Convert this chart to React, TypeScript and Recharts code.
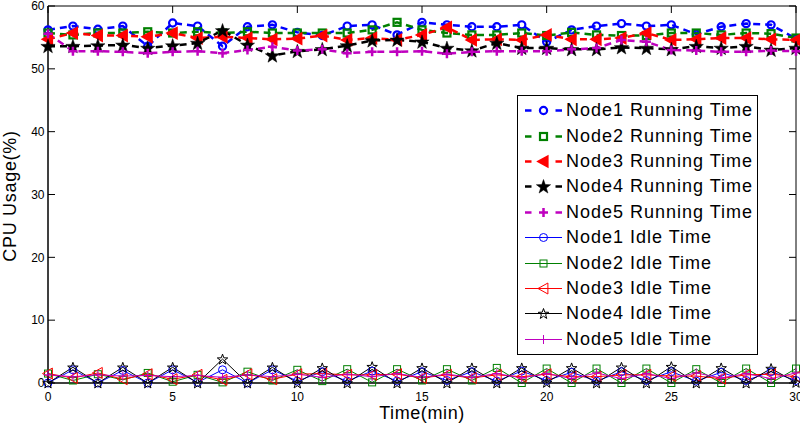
import React from "react";
import {
  LineChart,
  Line,
  XAxis,
  YAxis,
  Legend,
  ReferenceArea,
} from "recharts";

// minutes 0..30
const times = [
  0, 1, 2, 3, 4, 5, 6, 7, 8, 9, 10, 11, 12, 13, 14, 15, 16, 17, 18, 19, 20,
  21, 22, 23, 24, 25, 26, 27, 28, 29, 30,
];
const xTicks = [0, 5, 10, 15, 20, 25, 30];
const yTicks = [0, 10, 20, 30, 40, 50, 60];

const node1Run = [
  56.2, 56.8, 56.3, 56.8, 53.6, 57.3, 56.8, 53.6, 56.7, 57.0, 55.8, 55.3, 56.8,
  57.0, 55.4, 57.4, 57.0, 56.7, 56.7, 57.0, 54.3, 56.2, 56.8, 57.2, 56.8, 57.0,
  55.5, 56.7, 57.2, 57.0, 54.8,
];
const node2Run = [
  55.7, 55.4, 55.7, 55.7, 55.9, 55.7, 55.9, 55.7, 55.9, 55.7, 55.7, 55.7, 55.7,
  56.2, 57.4, 56.2, 55.7, 55.4, 55.4, 55.7, 55.3, 55.8, 55.4, 55.3, 55.3, 55.7,
  55.7, 55.4, 55.7, 55.6, 54.9,
];
const node3Run = [
  54.7, 55.7, 55.3, 55.3, 55.1, 55.7, 54.9, 55.1, 54.9, 54.7, 54.8, 55.3, 54.6,
  54.9, 54.6, 55.4, 56.6, 54.6, 54.7, 54.6, 55.4, 54.7, 54.7, 54.9, 55.7, 54.6,
  54.7, 54.9, 54.9, 54.7, 54.6,
];
const node4Run = [
  53.6, 53.6, 53.7, 53.8, 53.3, 53.7, 54.1, 56.1, 53.8, 52.1, 52.8, 53.1, 53.7,
  54.5, 54.6, 54.3, 53.3, 52.9, 54.1, 53.3, 53.3, 53.1, 53.1, 53.4, 53.3, 53.1,
  53.6, 53.3, 53.6, 53.0, 53.3,
];
const node5Run = [
  55.6, 52.8, 52.8, 52.7, 52.5, 52.7, 52.8, 52.5, 53.0, 53.5, 52.9, 53.1, 52.5,
  52.7, 52.7, 52.8, 52.4, 52.7, 52.8, 52.8, 52.8, 53.1, 53.3, 54.6, 54.3, 53.0,
  52.9, 52.7, 52.7, 52.9, 52.8,
];

const node1Idle = [
  0.0, 2.1, 0.0, 2.0, 0.0, 2.1, 0.1, 2.1, 0.0, 2.1, 0.3, 1.8, 0.3, 1.9, 0.3,
  1.8, 0.4, 1.8, 0.3, 1.9, 0.4, 1.7, 0.3, 1.8, 0.4, 1.8, 0.3, 1.7, 0.4, 1.8, 0.4,
];
const node2Idle = [
  1.5, 0.4, 1.4, 0.5, 1.6, 0.2, 1.3, 0.1, 1.8, 0.4, 2.1, 0.3, 2.2, 0.1, 2.2,
  0.4, 2.2, 0.4, 2.4, 0.0, 2.3, 0.0, 2.3, 0.0, 2.3, 0.0, 2.2, 0.0, 2.3, 0.0, 2.3,
];
const node3Idle = [
  1.5, 0.8, 1.6, 0.6, 1.4, 0.6, 1.3, 0.5, 1.4, 0.6, 1.4, 1.5, 1.3, 1.3, 1.4,
  0.8, 1.3, 0.8, 1.3, 1.0, 1.4, 1.0, 1.0, 1.3, 1.3, 1.1, 1.1, 0.7, 1.3, 1.4, 1.0,
];
const node4Idle = [
  0.0, 2.5, 0.0, 2.5, 0.0, 2.5, 0.0, 3.8, 0.0, 2.5, 0.0, 2.4, 0.0, 2.6, 0.0,
  2.4, 0.0, 2.4, 0.0, 2.4, 0.1, 2.4, 0.0, 2.5, 0.0, 2.6, 0.0, 2.4, 0.0, 2.3, 0.1,
];
const node5Idle = [
  1.3, 1.0, 1.3, 1.1, 1.2, 1.0, 1.2, 0.9, 1.3, 1.0, 1.4, 0.9, 1.4, 1.0, 1.5,
  0.9, 1.4, 0.9, 1.5, 0.8, 1.5, 0.7, 1.6, 0.7, 1.5, 0.7, 1.6, 0.8, 1.5, 0.7, 1.6,
];

const BLUE = "#0000ff";
const GREEN = "#008000";
const RED = "#ff0000";
const BLACK = "#000000";
const MAGENTA = "#bf00bf";

type Shape = "circle" | "square" | "triangle" | "star" | "plus";

const series = [
  { key: "n1r", name: "Node1 Running Time", values: node1Run, color: BLUE, shape: "circle", running: true },
  { key: "n2r", name: "Node2 Running Time", values: node2Run, color: GREEN, shape: "square", running: true },
  { key: "n3r", name: "Node3 Running Time", values: node3Run, color: RED, shape: "triangle", running: true },
  { key: "n4r", name: "Node4 Running Time", values: node4Run, color: BLACK, shape: "star", running: true },
  { key: "n5r", name: "Node5 Running Time", values: node5Run, color: MAGENTA, shape: "plus", running: true },
  { key: "n1i", name: "Node1 Idle Time", values: node1Idle, color: BLUE, shape: "circle", running: false },
  { key: "n2i", name: "Node2 Idle Time", values: node2Idle, color: GREEN, shape: "square", running: false },
  { key: "n3i", name: "Node3 Idle Time", values: node3Idle, color: RED, shape: "triangle", running: false },
  { key: "n4i", name: "Node4 Idle Time", values: node4Idle, color: BLACK, shape: "star", running: false },
  { key: "n5i", name: "Node5 Idle Time", values: node5Idle, color: MAGENTA, shape: "plus", running: false },
] as { key: string; name: string; values: number[]; color: string; shape: Shape; running: boolean }[];

const data = times.map((t, i) => {
  const row: Record<string, number> = { t };
  series.forEach((s) => (row[s.key] = s.values[i]));
  return row;
});

// layout
const W = 800;
const H = 431;
const M = { top: 6, right: 4, left: 0, bottom: 0 };
const Y_W = 48;
const X_H = 48;
const PLOT_W = W - M.left - M.right - Y_W;
const PLOT_H = H - M.top - M.bottom - X_H;
const TICK = 7;
const FONT = '"Liberation Sans", Arial, Helvetica, sans-serif';

function starPoints(x: number, y: number, R: number) {
  const r = R * 0.4;
  const pts: string[] = [];
  for (let k = 0; k < 10; k++) {
    const a = -Math.PI / 2 + (k * Math.PI) / 5;
    const rad = k % 2 === 0 ? R : r;
    pts.push(`${x + rad * Math.cos(a)},${y + rad * Math.sin(a)}`);
  }
  return pts.join(" ");
}

function Marker({ shape, x, y, color, running }: { shape: Shape; x: number; y: number; color: string; running: boolean }) {
  const sw = running ? 2.2 : 1;
  switch (shape) {
    case "circle":
      return <circle cx={x} cy={y} r={running ? 3.6 : 4} fill="none" stroke={color} strokeWidth={sw} />;
    case "square": {
      const s = 3.5;
      return <rect x={x - s} y={y - s} width={2 * s} height={2 * s} fill="none" stroke={color} strokeWidth={sw} />;
    }
    case "triangle": {
      const s = running ? 5 : 5.5;
      return (
        <polygon
          points={`${x - s},${y} ${x + s * 0.8},${y - s} ${x + s * 0.8},${y + s}`}
          fill={running ? color : "none"}
          stroke={color}
          strokeWidth={sw}
        />
      );
    }
    case "star":
      return (
        <polygon
          points={starPoints(x, y + 0.5, running ? 7.5 : 5.5)}
          fill={running ? color : "none"}
          stroke={color}
          strokeWidth={running ? 0.5 : 1}
        />
      );
    default: {
      const s = 4.5;
      return (
        <path d={`M${x - s},${y}H${x + s}M${x},${y - s}V${y + s}`} stroke={color} strokeWidth={running ? 2.5 : 1} fill="none" />
      );
    }
  }
}

const makeDot = (shape: Shape, color: string, running: boolean) => (props: any) => {
  const { cx, cy, index } = props;
  if (cx == null || cy == null) return <g key={index} />;
  return (
    <g key={index}>
      <Marker shape={shape} x={cx} y={cy} color={color} running={running} />
    </g>
  );
};

const XTick = (props: any) => {
  const { x, y, payload } = props;
  return (
    <g>
      <line x1={x} y1={y} x2={x} y2={y - TICK} stroke="#000" />
      <line x1={x} y1={y - PLOT_H} x2={x} y2={y - PLOT_H + TICK} stroke="#000" />
      <text x={x} y={y + 17.5} textAnchor="middle" fontSize={12} fill="#000" fontFamily={FONT}>
        {payload.value}
      </text>
    </g>
  );
};

const YTick = (props: any) => {
  const { x, y, payload } = props;
  return (
    <g>
      <line x1={x} y1={y} x2={x + TICK} y2={y} stroke="#000" />
      <line x1={x + PLOT_W} y1={y} x2={x + PLOT_W - TICK} y2={y} stroke="#000" />
      <text x={x - 3.5} y={y + 4.3} textAnchor="end" fontSize={12} fill="#000" fontFamily={FONT}>
        {payload.value}
      </text>
    </g>
  );
};

const XTitle = () => (
  <text
    x={M.left + Y_W + PLOT_W / 2}
    y={419}
    textAnchor="middle"
    fontSize={18}
    fill="#000"
    fontFamily={FONT}
    style={{ letterSpacing: 0.6 }}
  >
    Time(min)
  </text>
);

const YTitle = () => (
  <text
    x={16}
    y={196}
    transform="rotate(-90 16 196)"
    textAnchor="middle"
    fontSize={18}
    fill="#000"
    fontFamily={FONT}
    style={{ letterSpacing: 0.7 }}
  >
    CPU Usage(%)
  </text>
);

const LegendBox = () => (
  <div
    style={{
      boxSizing: "border-box",
      width: 241,
      height: 260,
      border: "1px solid #000",
      background: "#fff",
      padding: "2px 0 0 7px",
      fontFamily: FONT,
    }}
  >
    {series.map((s) => (
      <div key={s.key} style={{ display: "flex", alignItems: "center", height: 25.4 }}>
        <svg width={37} height={25} style={{ flex: "none" }}>
          {s.running ? (
            <>
              <line x1={0} y1={12.5} x2={6.5} y2={12.5} stroke={s.color} strokeWidth={2.5} />
              <line x1={30.5} y1={12.5} x2={37} y2={12.5} stroke={s.color} strokeWidth={2.5} />
            </>
          ) : (
            <line x1={0} y1={12.5} x2={37} y2={12.5} stroke={s.color} strokeWidth={1} />
          )}
          <Marker shape={s.shape} x={18.5} y={12.5} color={s.color} running={s.running} />
        </svg>
        <span style={{ marginLeft: 4, fontSize: 18, letterSpacing: 1, color: "#000", whiteSpace: "nowrap" }}>
          {s.name}
        </span>
      </div>
    ))}
  </div>
);

export default function App() {
  return (
    <div style={{ position: "absolute", left: 0, top: 0, width: W, height: H, background: "#fff" }}>
      <LineChart width={W} height={H} data={data} margin={M}>
        <ReferenceArea x1={0} x2={30} y1={0} y2={60} fill="none" stroke="#000" strokeWidth={1} ifOverflow="visible" />
        <XAxis
          dataKey="t"
          type="number"
          domain={[0, 30]}
          ticks={xTicks}
          interval={0}
          height={X_H}
          tickSize={0}
          tickMargin={0}
          tickLine={false}
          axisLine={{ stroke: "#000" }}
          tick={(p: any) => <XTick {...p} />}
          label={{ content: () => <XTitle /> }}
        />
        <YAxis
          type="number"
          domain={[0, 60]}
          ticks={yTicks}
          interval={0}
          width={Y_W}
          tickSize={0}
          tickMargin={0}
          tickLine={false}
          axisLine={{ stroke: "#000" }}
          tick={(p: any) => <YTick {...p} />}
          label={{ content: () => <YTitle /> }}
        />
        <Legend
          layout="vertical"
          align="center"
          verticalAlign="middle"
          content={() => <LegendBox />}
          wrapperStyle={{ left: 517, top: 95, width: 241, height: 260 }}
        />
        {series.map((s) => (
          <Line
            key={s.key}
            type="linear"
            dataKey={s.key}
            name={s.name}
            stroke={s.color}
            strokeWidth={s.running ? 2.5 : 1}
            strokeDasharray={s.running ? "7 5" : undefined}
            dot={makeDot(s.shape, s.color, s.running)}
            activeDot={false}
            isAnimationActive={false}
          />
        ))}
      </LineChart>
    </div>
  );
}
